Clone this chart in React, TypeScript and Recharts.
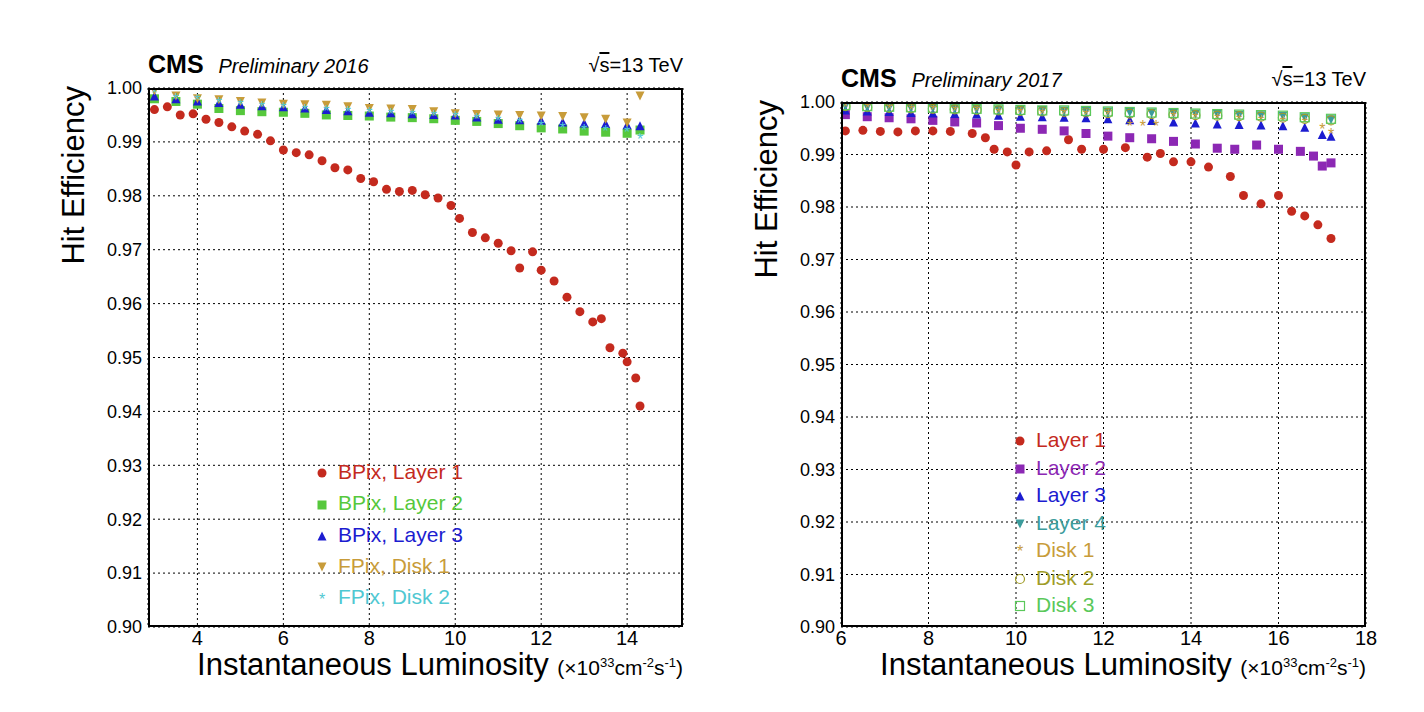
import React from 'react';
import { ScatterChart, Scatter, XAxis, YAxis, CartesianGrid } from 'recharts';

// 2016 hit efficiency vs instantaneous luminosity [x, y]
const bpixL1_2016 = [[3.0,0.996],[3.3,0.9965],[3.6,0.995],[3.9,0.9952],[4.2,0.9942],[4.5,0.9936],[4.8,0.9928],[5.1,0.992],[5.4,0.9914],[5.7,0.9902],[6.0,0.9885],[6.3,0.988],[6.6,0.9876],[6.9,0.9865],[7.2,0.9852],[7.5,0.9848],[7.8,0.9832],[8.1,0.9826],[8.4,0.9812],[8.7,0.9808],[9.0,0.981],[9.3,0.9802],[9.6,0.9796],[9.9,0.9782],[10.1,0.9758],[10.4,0.9732],[10.7,0.9722],[11.0,0.9712],[11.3,0.9698],[11.5,0.9666],[11.8,0.9696],[12.0,0.9662],[12.3,0.9642],[12.6,0.9612],[12.9,0.9585],[13.2,0.9566],[13.4,0.9572],[13.6,0.9518],[13.9,0.9508],[14.0,0.9492],[14.2,0.9462],[14.3,0.941]];
const bpixL2_2016 = [[3.0,0.998],[3.5,0.9975],[4.0,0.997],[4.5,0.9962],[5.0,0.9958],[5.5,0.9956],[6.0,0.9955],[6.5,0.9953],[7.0,0.995],[7.5,0.9949],[8.0,0.9948],[8.5,0.9946],[9.0,0.9945],[9.5,0.9943],[10.0,0.994],[10.5,0.9938],[11.0,0.9934],[11.5,0.993],[12.0,0.9926],[12.5,0.9924],[13.0,0.992],[13.5,0.9918],[14.0,0.9916],[14.3,0.9922]];
const bpixL3_2016 = [[3.0,0.9985],[3.5,0.998],[4.0,0.9976],[4.5,0.9973],[5.0,0.997],[5.5,0.9967],[6.0,0.9965],[6.5,0.9963],[7.0,0.996],[7.5,0.9958],[8.0,0.9955],[8.5,0.9954],[9.0,0.9952],[9.5,0.9951],[10.0,0.995],[10.5,0.9946],[11.0,0.9942],[11.5,0.9941],[12.0,0.994],[12.5,0.9937],[13.0,0.9935],[13.5,0.9934],[14.0,0.9932],[14.3,0.993]];
const fpixD1_2016 = [[3.0,0.9995],[3.5,0.9985],[4.0,0.998],[4.5,0.9978],[5.0,0.9975],[5.5,0.9972],[6.0,0.997],[6.5,0.9969],[7.0,0.9968],[7.5,0.9965],[8.0,0.9962],[8.5,0.9961],[9.0,0.996],[9.5,0.9956],[10.0,0.9952],[10.5,0.9951],[11.0,0.995],[11.5,0.9949],[12.0,0.9948],[12.5,0.9947],[13.0,0.9945],[13.5,0.9942],[14.0,0.9935],[14.3,0.9985]];
const fpixD2_2016 = [[3.0,0.999],[3.5,0.998],[4.0,0.9977],[4.5,0.9972],[5.0,0.9968],[5.5,0.9965],[6.0,0.9962],[6.5,0.996],[7.0,0.9958],[7.5,0.9956],[8.0,0.9954],[8.5,0.9952],[9.0,0.995],[9.5,0.9948],[10.0,0.9946],[10.5,0.9942],[11.0,0.9938],[11.5,0.9935],[12.0,0.993],[12.5,0.9926],[13.0,0.9922],[13.5,0.992],[14.0,0.9918],[14.3,0.9905]];

// 2017
const layer1_2017 = [[6.1,0.9945],[6.5,0.9946],[6.9,0.9944],[7.3,0.9943],[7.7,0.9945],[8.1,0.9945],[8.5,0.9944],[9.0,0.994],[9.3,0.9932],[9.5,0.991],[9.8,0.9905],[10.0,0.988],[10.3,0.9905],[10.7,0.9907],[11.2,0.9928],[11.5,0.991],[12.0,0.991],[12.5,0.9913],[13.0,0.9895],[13.3,0.9902],[13.6,0.9886],[14.0,0.9886],[14.4,0.9876],[14.9,0.9858],[15.2,0.9822],[15.6,0.9806],[16.0,0.9822],[16.3,0.9792],[16.6,0.9783],[16.9,0.9766],[17.2,0.974]];
const layer2_2017 = [[6.1,0.9976],[6.6,0.9972],[7.1,0.997],[7.6,0.9968],[8.1,0.9965],[8.6,0.9962],[9.1,0.996],[9.6,0.9955],[10.1,0.995],[10.6,0.9948],[11.1,0.9945],[11.6,0.994],[12.1,0.9935],[12.6,0.9932],[13.1,0.993],[13.6,0.9925],[14.1,0.992],[14.6,0.9912],[15.0,0.991],[15.5,0.9918],[16.0,0.991],[16.5,0.9906],[16.8,0.9897],[17.0,0.9878],[17.2,0.9884]];
const layer3_2017 = [[6.1,0.9985],[6.6,0.9983],[7.1,0.9982],[7.6,0.998],[8.1,0.9979],[8.6,0.9978],[9.1,0.9977],[9.6,0.9975],[10.1,0.9973],[10.6,0.9972],[11.1,0.9971],[11.6,0.997],[12.1,0.9968],[12.6,0.9966],[13.1,0.9965],[13.6,0.9962],[14.1,0.996],[14.6,0.9958],[15.1,0.9957],[15.6,0.9956],[16.1,0.9955],[16.6,0.9952],[17.0,0.9938],[17.2,0.9935]];
const layer4_2017 = [[6.1,0.9992],[6.6,0.999],[7.1,0.9989],[7.6,0.9988],[8.1,0.9988],[8.6,0.9987],[9.1,0.9986],[9.6,0.9985],[10.1,0.9985],[10.6,0.9984],[11.1,0.9983],[11.6,0.9982],[12.1,0.9981],[12.6,0.998],[13.1,0.9979],[13.6,0.9978],[14.1,0.9977],[14.6,0.9976],[15.1,0.9975],[15.6,0.9974],[16.1,0.9973],[16.6,0.997],[17.2,0.9966]];
const disk1_2017 = [[6.1,0.999],[6.6,0.9988],[7.1,0.9986],[7.6,0.9985],[8.1,0.9984],[8.6,0.9983],[9.1,0.9982],[9.6,0.998],[10.1,0.9979],[10.6,0.9978],[11.1,0.9977],[11.6,0.9976],[12.1,0.9975],[12.6,0.9955],[12.9,0.9955],[13.2,0.9954],[13.6,0.9972],[14.1,0.997],[14.6,0.9968],[15.1,0.9966],[15.6,0.9964],[16.1,0.9962],[16.6,0.996],[17.0,0.9948],[17.2,0.994]];
const disk2_2017 = [[6.1,0.9992],[6.6,0.999],[7.1,0.9989],[7.6,0.9988],[8.1,0.9987],[8.6,0.9986],[9.1,0.9985],[9.6,0.9984],[10.1,0.9983],[10.6,0.9982],[11.1,0.9981],[11.6,0.998],[12.1,0.9979],[12.6,0.9978],[13.1,0.9977],[13.6,0.9976],[14.1,0.9975],[14.6,0.9974],[15.1,0.9973],[15.6,0.9972],[16.1,0.997],[16.6,0.9968],[17.2,0.9965]];
const disk3_2017 = [[6.1,0.9994],[6.6,0.9992],[7.1,0.9991],[7.6,0.999],[8.1,0.9989],[8.6,0.9988],[9.1,0.9987],[9.6,0.9986],[10.1,0.9985],[10.6,0.9984],[11.1,0.9984],[11.6,0.9983],[12.1,0.9982],[12.6,0.9981],[13.1,0.998],[13.6,0.9979],[14.1,0.9978],[14.6,0.9977],[15.1,0.9976],[15.6,0.9975],[16.1,0.9974],[16.6,0.9971],[17.2,0.9968]];

const yTicks = [0.9, 0.91, 0.92, 0.93, 0.94, 0.95, 0.96, 0.97, 0.98, 0.99, 1.0];
const xTicks2016 = [4, 6, 8, 10, 12, 14];
const xTicks2017 = [6, 8, 10, 12, 14, 16, 18];

const FONT = '"Liberation Sans", Arial, sans-serif';

const toPts = (a: number[][]) => a.map(([x, y]) => ({ x, y }));

function marker(kind: string, color: string) {
  return (p: any) => {
    const { cx, cy } = p;
    const s = 4.5;
    if (kind === 'circle') return <circle cx={cx} cy={cy} r={s} fill={color} />;
    if (kind === 'square') return <rect x={cx - s} y={cy - s} width={2 * s} height={2 * s} fill={color} />;
    if (kind === 'up') return <polygon points={`${cx},${cy - s} ${cx - s},${cy + s} ${cx + s},${cy + s}`} fill={color} />;
    if (kind === 'down') return <polygon points={`${cx},${cy + s} ${cx - s},${cy - s} ${cx + s},${cy - s}`} fill={color} />;
    if (kind === 'star') return <text x={cx} y={cy + 6} fontSize={16} textAnchor="middle" fill={color}>*</text>;
    if (kind === 'ocircle') return <circle cx={cx} cy={cy} r={s} fill="none" stroke={color} strokeWidth={1.2} />;
    return <rect x={cx - s} y={cy - s} width={2 * s} height={2 * s} fill="none" stroke={color} strokeWidth={1.2} />;
  };
}

const series2016 = [
  { name: 'BPix, Layer 1', data: bpixL1_2016, color: '#c42a1e', kind: 'circle' },
  { name: 'BPix, Layer 2', data: bpixL2_2016, color: '#56c83c', kind: 'square' },
  { name: 'BPix, Layer 3', data: bpixL3_2016, color: '#1c1cd0', kind: 'up' },
  { name: 'FPix, Disk 1', data: fpixD1_2016, color: '#c89c3a', kind: 'down' },
  { name: 'FPix, Disk 2', data: fpixD2_2016, color: '#50c8d2', kind: 'star' },
];
const series2017 = [
  { name: 'Layer 1', data: layer1_2017, color: '#c42a1e', kind: 'circle' },
  { name: 'Layer 2', data: layer2_2017, color: '#8c28b4', kind: 'square' },
  { name: 'Layer 3', data: layer3_2017, color: '#1c1cd0', kind: 'up' },
  { name: 'Layer 4', data: layer4_2017, color: '#3c9c9c', kind: 'down' },
  { name: 'Disk 1', data: disk1_2017, color: '#c89c3a', kind: 'star' },
  { name: 'Disk 2', data: disk2_2017, color: '#a09c28', kind: 'ocircle' },
  { name: 'Disk 3', data: disk3_2017, color: '#5ac85a', kind: 'osquare' },
];

const AXW = 60;
const AXH = 30;

function Panel(props: any) {
  const { left, w, plot, xDomain, xTicks, series, year, legend } = props;
  const [pl, pr, pt, pb] = plot;
  return (
    <div style={{ position: 'absolute', left, top: 0, width: w, height: 712, fontFamily: FONT }}>
      <ScatterChart width={w} height={712} margin={{ left: pl - AXW, right: w - pr, top: pt, bottom: 712 - pb - AXH }}>
        <CartesianGrid stroke="#000" strokeDasharray="2 3" strokeWidth={1} />
        <XAxis type="number" dataKey="x" domain={xDomain} ticks={xTicks} height={AXH} allowDataOverflow
          axisLine={false} tickLine={false} tickSize={2} tickMargin={2} interval={0}
          tick={{ fill: '#000', fontSize: 20, fontFamily: FONT }} />
        <YAxis type="number" dataKey="y" domain={[0.9, 1.0]} ticks={yTicks} width={AXW} allowDataOverflow
          axisLine={false} tickLine={false} tickSize={4} tickMargin={2} interval={0} tickFormatter={(v: number) => v.toFixed(2)}
          tick={{ fill: '#000', fontSize: 18, fontFamily: FONT }} />
        {series.map((s: any) => (
          <Scatter key={s.name} data={toPts(s.data)} shape={marker(s.kind, s.color)} isAnimationActive={false} />
        ))}
      </ScatterChart>
      <div style={{ position: 'absolute', left: pl, top: pt, width: pr - pl, height: pb - pt, border: '2px solid #000', boxSizing: 'border-box' }} />
      <div style={{ position: 'absolute', left: pl, top: pt - 38, fontSize: 25, fontWeight: 'bold' }}>
        CMS <span style={{ fontSize: 20, fontWeight: 'normal', fontStyle: 'italic', marginLeft: 8 }}>Preliminary {year}</span>
      </div>
      <div style={{ position: 'absolute', right: w - pr, top: pt - 34, fontSize: 20 }}>
        √<span style={{ textDecoration: 'overline' }}>s</span>=13 TeV
      </div>
      <div style={{ position: 'absolute', left: pl - 92, top: pt - 2, fontSize: 31, transformOrigin: 'right top', transform: 'translateX(-100%) rotate(-90deg)', whiteSpace: 'nowrap' }}>
        Hit Efficiency
      </div>
      <div style={{ position: 'absolute', right: w - pr, top: pb + 20, fontSize: 31, whiteSpace: 'nowrap' }}>
        Instantaneous Luminosity <span style={{ fontSize: 21 }}>(×10<sup style={{ fontSize: 13 }}>33</sup>cm<sup style={{ fontSize: 13 }}>-2</sup>s<sup style={{ fontSize: 13 }}>-1</sup>)</span>
      </div>
      {series.map((s: any, i: number) => (
        <div key={s.name} style={{ position: 'absolute', left: legend[0], top: legend[1] + i * legend[2] - 13, fontSize: 21, color: s.color, whiteSpace: 'nowrap' }}>
          <svg width={20} height={20} style={{ verticalAlign: 'middle', marginRight: 6 }}>
            {marker(s.kind, s.color)({ cx: 10, cy: 10 })}
          </svg>
          {s.name}
        </div>
      ))}
    </div>
  );
}

export default function App() {
  return (
    <div style={{ position: 'absolute', left: 0, top: 0, width: 1424, height: 712, background: '#fff' }}>
      <Panel left={0} w={705} plot={[148, 683, 88, 627]} xDomain={[2.85, 15.3]} xTicks={xTicks2016}
        series={series2016} year={2016} legend={[312, 473, 31.3]} />
      <Panel left={705} w={719} plot={[136, 661, 102, 627]} xDomain={[6, 18]} xTicks={xTicks2017}
        series={series2017} year={2017} legend={[305, 441, 27.5]} />
    </div>
  );
}
